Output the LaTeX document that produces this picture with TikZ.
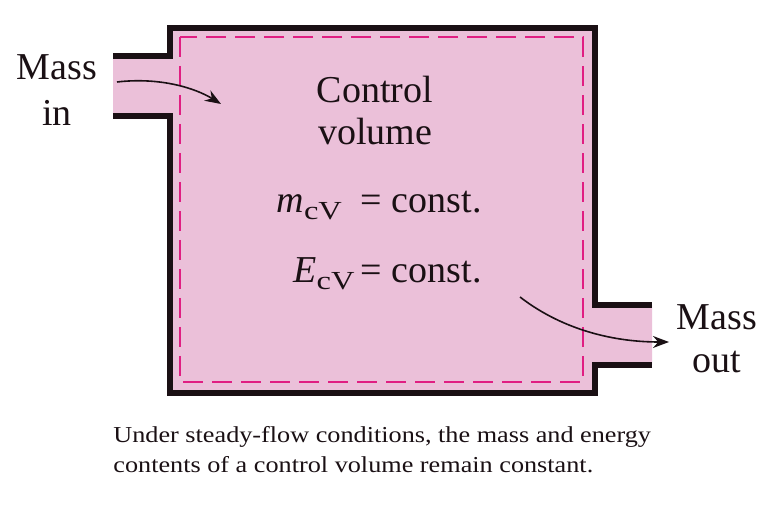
\documentclass[tikz,border=0pt]{standalone}
\usepackage{fontspec}
\setmainfont{Liberation Serif}
\newfontfamily\capfont[FakeStretch=1.15]{Liberation Serif}
\newfontfamily\subfont[FakeStretch=1.25]{Liberation Serif}
\usetikzlibrary{arrows.meta,positioning}
\definecolor{cvfill}{HTML}{EBC0D9}
\definecolor{cvdash}{HTML}{E01E82}
\definecolor{ink}{HTML}{1A1014}
\newcommand{\cvsub}{\raisebox{-0.4ex}{\subfont\fontsize{13}{14}\selectfont cV}}

\begin{document}
\begin{tikzpicture}[x=0.5pt,y=-0.5pt,
    wall/.style={ink,line width=2.6pt,line join=miter},
    bigtext/.style={font=\fontsize{19}{21}\selectfont,ink,inner sep=0pt,anchor=base},
    captext/.style={font=\capfont\fontsize{11.4}{15}\selectfont,ink,inner sep=0pt,anchor=base west},
    flow/.style={ink,line width=0.8pt,-{Stealth[length=8pt,width=6pt]}}]
  \useasboundingbox (0,0) rectangle (775,506);
  % control volume with inlet and outlet pipes
  \fill[cvfill] (113,56) -- (170,56) -- (170,28) -- (595,28) -- (595,305)
    -- (652,305) -- (652,365) -- (595,365) -- (595,393) -- (170,393)
    -- (170,116) -- (113,116) -- cycle;
  \draw[wall] (113,56) -- (170,56) -- (170,28) -- (595,28) -- (595,305) -- (652,305);
  \draw[wall] (652,365) -- (595,365) -- (595,393) -- (170,393) -- (170,116) -- (113,116);
  \draw[cvdash,line width=1pt,dash pattern=on 10pt off 4.5pt] (180,37) rectangle (583,382);
  % labels
  \node[bigtext] (massin) at (57,80) {Mass};
  \node[bigtext] (in) at (57,126) {in};
  \node[bigtext] (ctrl) at (375,103) {Control};
  \node[bigtext] (vol) at (375,145) {volume};
  \node[bigtext,anchor=base east] (mcv) at (482,213) {\textit{m}\cvsub\ \ = const.};
  \node[bigtext,anchor=base east] (ecv) at (482,283) {\textit{E}\cvsub\,= const.};
  \node[bigtext] (massout) at (717,330) {Mass};
  \node[bigtext] (out) at (717,373) {out};
  \node[captext] (cap1) at (113,443) {Under steady-flow conditions, the mass and energy};
  \node[captext] (cap2) at (113,473) {contents of a control volume remain constant.};
  % flow arrows
  \coordinate (inA) at (117,82);
  \coordinate (inB) at (221,104);
  \coordinate (outA) at (520,297);
  \coordinate (outB) at (669,342);
  \draw[flow] (inA) .. controls (160,77) and (195,88) .. (inB);
  \draw[flow] (outA) .. controls (560,328) and (610,342) .. (outB);
\end{tikzpicture}
\end{document}
